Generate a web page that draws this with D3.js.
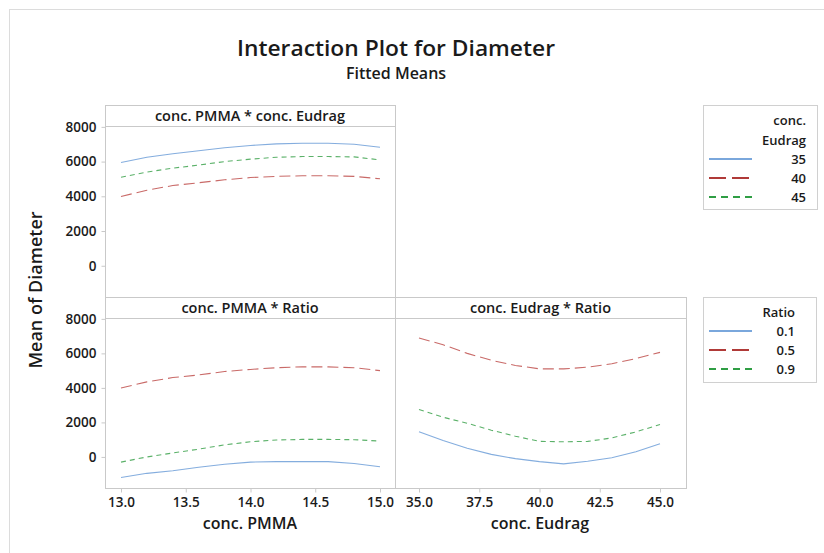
<!DOCTYPE html>
<html>
<head>
<meta charset="utf-8">
<script src="https://cdn.jsdelivr.net/npm/d3@7"></script>
<style>
  body { margin: 0; background: #fff; }
  svg { display: block; font-family: "Open Sans", "Noto Sans", sans-serif; }
</style>
</head>
<body>
<svg id="chart" width="824" height="553"></svg>
<script>
// Interaction plot for Diameter — fitted means

const pmmaX = [13.0, 13.2, 13.4, 13.6, 13.8, 14.0, 14.2, 14.4, 14.6, 14.8, 15.0];
const eudragX = [35, 36, 37, 38, 39, 40, 41, 42, 43, 44, 45];

// conc. PMMA * conc. Eudrag
const eudragLevels = ['35', '40', '45'];
const pe35 = [5950, 6250, 6450, 6620, 6800, 6930, 7020, 7060, 7060, 7000, 6830];
const pe40 = [3990, 4350, 4620, 4780, 4950, 5080, 5150, 5180, 5180, 5150, 5010];
const pe45 = [5100, 5400, 5620, 5800, 6000, 6140, 6250, 6290, 6290, 6270, 6100];

// conc. PMMA * Ratio
const ratioLevels = ['0.1', '0.5', '0.9'];
const pr01 = [-1190, -950, -800, -600, -420, -300, -270, -270, -270, -380, -570];
const pr05 = [3990, 4350, 4600, 4750, 4950, 5070, 5170, 5220, 5220, 5170, 5000];
const pr09 = [-300, 0, 230, 450, 700, 880, 980, 1015, 1015, 1000, 920];

// conc. Eudrag * Ratio
const er01 = [1460, 950, 500, 150, -100, -270, -400, -250, -50, 300, 765];
const er05 = [6890, 6500, 6000, 5600, 5300, 5105, 5100, 5200, 5400, 5700, 6060];
const er09 = [2745, 2300, 1950, 1550, 1200, 900, 880, 900, 1100, 1450, 1880];

const yTicks = [0, 2000, 4000, 6000, 8000];
const pmmaTicks = [13.0, 13.5, 14.0, 14.5, 15.0];
const eudragTicks = [35.0, 37.5, 40.0, 42.5, 45.0];

const styles = [
  { color: '#6f9fd8', legend: '#7aa7dc', dash: null },
  { color: '#c0504d', legend: '#b03a38', dash: '11,5' },
  { color: '#3ea34f', legend: '#2f9e44', dash: '5,4' }
];

const svg = d3.select('#chart');
const gray = '#c9c9c9';
const textColor = '#1a1a1a';

// outer frame
svg.append('rect').attr('x', 9.5).attr('y', 9.5).attr('width', 840).attr('height', 560)
  .attr('fill', 'none').attr('stroke', '#dcdcdc');

// titles
svg.append('text').attr('x', 396).attr('y', 56).attr('text-anchor', 'middle')
  .attr('font-size', 22).attr('font-weight', 600).attr('fill', textColor)
  .attr('textLength', 318).attr('lengthAdjust', 'spacingAndGlyphs')
  .text('Interaction Plot for Diameter');
svg.append('text').attr('x', 396).attr('y', 79).attr('text-anchor', 'middle')
  .attr('font-size', 16).attr('font-weight', 600).attr('fill', textColor)
  .text('Fitted Means');

svg.append('text')
  .attr('transform', 'translate(42,290) rotate(-90)')
  .attr('text-anchor', 'middle').attr('font-size', 18).attr('font-weight', 600)
  .attr('fill', textColor).text('Mean of Diameter');

const yDomain = [-1800, 8050];

function panel(opts) {
  const { x0, x1, top, bottom, title, xDomain, xRange, xs, series, xTicks, showY } = opts;
  const stripH = 21;
  const y = d3.scaleLinear().domain(yDomain).range([bottom, top + stripH]);
  const x = d3.scaleLinear().domain(xDomain).range(xRange);
  const g = svg.append('g');

  g.append('rect').attr('x', x0 + 0.5).attr('y', top + 0.5)
    .attr('width', x1 - x0).attr('height', bottom - top)
    .attr('fill', '#fff').attr('stroke', gray);
  g.append('line').attr('x1', x0).attr('x2', x1)
    .attr('y1', top + stripH + 0.5).attr('y2', top + stripH + 0.5).attr('stroke', gray);
  g.append('text').attr('x', (x0 + x1) / 2).attr('y', top + 16)
    .attr('text-anchor', 'middle').attr('font-size', 14.5).attr('font-weight', 600)
    .attr('fill', textColor).text(title);

  if (showY) {
    const ay = g.append('g').attr('transform', `translate(${x0 + 0.5},0)`)
      .call(d3.axisLeft(y).tickValues(yTicks).tickFormat(d3.format('d'))
        .tickSize(4).tickSizeOuter(0).tickPadding(5));
    ay.select('.domain').remove();
    ay.selectAll('line').attr('stroke', gray);
    ay.selectAll('text').attr('font-size', 13.5).attr('font-weight', 600)
      .attr('fill', textColor).attr('font-family', '"Open Sans", sans-serif');
  }
  if (xTicks) {
    const ax = g.append('g').attr('transform', `translate(0,${bottom + 0.5})`)
      .call(d3.axisBottom(x).tickValues(xTicks).tickFormat(d3.format('.1f'))
        .tickSize(4).tickSizeOuter(0).tickPadding(5));
    ax.select('.domain').remove();
    ax.selectAll('line').attr('stroke', gray);
    ax.selectAll('text').attr('font-size', 13.5).attr('font-weight', 600)
      .attr('fill', textColor).attr('font-family', '"Open Sans", sans-serif');
  }

  const line = d3.line().x((d, i) => x(xs[i])).y(d => y(d));
  series.forEach((vals, i) => {
    g.append('path').datum(vals).attr('d', line)
      .attr('fill', 'none').attr('stroke', styles[i].color)
      .attr('stroke-width', 1.1).attr('stroke-opacity', 0.85)
      .attr('stroke-dasharray', styles[i].dash);
  });
}

panel({ x0: 105, x1: 395, top: 105, bottom: 297, title: 'conc. PMMA * conc. Eudrag',
  xDomain: [13, 15], xRange: [121, 380], xs: pmmaX, series: [pe35, pe40, pe45], showY: true });
panel({ x0: 105, x1: 395, top: 297, bottom: 488, title: 'conc. PMMA * Ratio',
  xDomain: [13, 15], xRange: [121, 380], xs: pmmaX, series: [pr01, pr05, pr09],
  xTicks: pmmaTicks, showY: true });
panel({ x0: 395, x1: 686, top: 297, bottom: 488, title: 'conc. Eudrag * Ratio',
  xDomain: [35, 45], xRange: [419, 660], xs: eudragX, series: [er01, er05, er09],
  xTicks: eudragTicks, showY: false });

svg.append('text').attr('x', 250).attr('y', 529).attr('text-anchor', 'middle')
  .attr('font-size', 16).attr('font-weight', 600).attr('fill', textColor).text('conc. PMMA');
svg.append('text').attr('x', 540).attr('y', 529).attr('text-anchor', 'middle')
  .attr('font-size', 16).attr('font-weight', 600).attr('fill', textColor).text('conc. Eudrag');

// legends
function legend(x0, y0, w, h, titleLines, labels, textRight, firstRow) {
  const g = svg.append('g');
  g.append('rect').attr('x', x0 + 0.5).attr('y', y0 + 0.5).attr('width', w).attr('height', h)
    .attr('fill', '#fff').attr('stroke', '#d0d0d0');
  titleLines.forEach((t, i) => {
    g.append('text').attr('x', textRight).attr('y', y0 + 20 + i * 20)
      .attr('text-anchor', 'end').attr('font-size', 13).attr('font-weight', 600)
      .attr('fill', textColor).text(t);
  });
  labels.forEach((lab, i) => {
    const cy = firstRow + i * 19;
    g.append('line').attr('x1', x0 + 6).attr('x2', x0 + 49)
      .attr('y1', cy).attr('y2', cy)
      .attr('stroke', styles[i].legend).attr('stroke-width', 1.8)
      .attr('stroke-dasharray', i === 1 ? '17,6' : i === 2 ? '7,5' : null);
    g.append('text').attr('x', textRight).attr('y', cy + 5)
      .attr('text-anchor', 'end').attr('font-size', 13).attr('font-weight', 600)
      .attr('fill', textColor).text(lab);
  });
}

legend(703, 105, 114, 104, ['conc.', 'Eudrag'], eudragLevels, 806, 159);
legend(703, 297, 113, 85, ['Ratio'], ratioLevels, 795, 331);
</script>
</body>
</html>
